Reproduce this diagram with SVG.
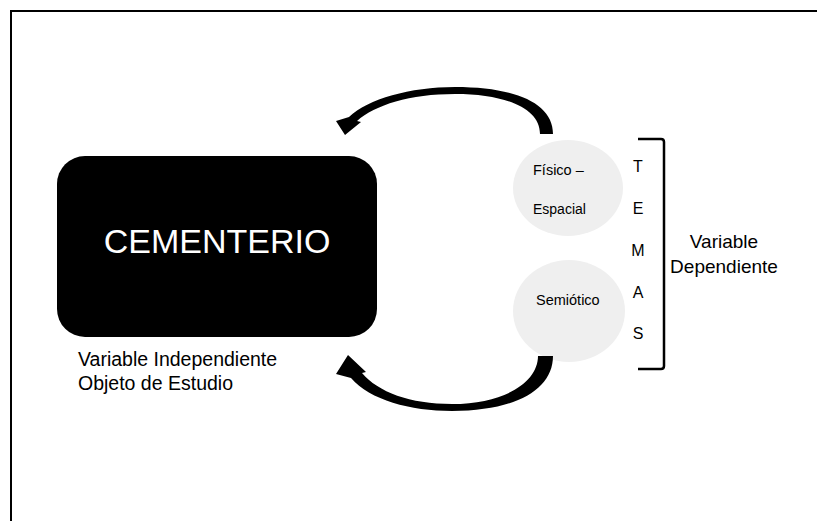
<svg xmlns="http://www.w3.org/2000/svg" width="817" height="521" viewBox="0 0 817 521">
<style>
text{font-family:"Liberation Sans",Arial,sans-serif;fill:#000}
.w{fill:#fff}
.bub{fill:#efefef}
.arr{fill:#000}
</style>
<rect width="817" height="521" fill="#fff"/>
<path d="M11,521 V11 H817" fill="none" stroke="#000" stroke-width="2"/>
<g id="cementerio">
<rect x="57" y="156" width="320" height="181" rx="28" fill="#000"/>
<text class="w" x="217" y="253" font-size="34" text-anchor="middle">CEMENTERIO</text>
</g>
<g id="label-independiente">
<text x="78" y="366" font-size="19.5">Variable Independiente</text>
<text x="78" y="390" font-size="19.5">Objeto de Estudio</text>
</g>
<g id="fisico">
<ellipse class="bub" cx="568" cy="188" rx="55" ry="48"/>
<text x="533" y="175" font-size="14.5">Físico –</text>
<text x="533" y="214" font-size="14">Espacial</text>
</g>
<g id="semiotico">
<ellipse class="bub" cx="569" cy="311" rx="56" ry="51"/>
<text x="536" y="305" font-size="14.5">Semiótico</text>
</g>
<g id="temas">
<text x="638" y="172" font-size="16" text-anchor="middle">T</text>
<text x="638" y="214" font-size="16" text-anchor="middle">E</text>
<text x="638" y="256" font-size="16" text-anchor="middle">M</text>
<text x="638" y="298" font-size="16" text-anchor="middle">A</text>
<text x="638" y="339" font-size="16" text-anchor="middle">S</text>
<path d="M638,139 H661 Q664,139 664,142 V366 Q664,369 661,369 H638" fill="none" stroke="#000" stroke-width="2.5"/>
</g>
<g id="label-dependiente">
<text x="724" y="248" font-size="19" text-anchor="middle">Variable</text>
<text x="724" y="273" font-size="19" text-anchor="middle">Dependiente</text>
</g>
<g id="connectors">
<path class="arr" d="M540,134 C540,108 505,94 455,94 C410,94 375,105 357,121 L361,122 L345,135 L336,121 L349,117 C368,99 410,87 455,87 C515,87 553,103 553,134 Z"/>
<path class="arr" d="M538,356 C538,382 505,404 452,404 C410,404 378,392 362,373 L366,372 L348,355 L336,374 L351,378 C370,400 410,411 452,411 C515,411 553,390 553,356 Z"/>
</g>
</svg>
